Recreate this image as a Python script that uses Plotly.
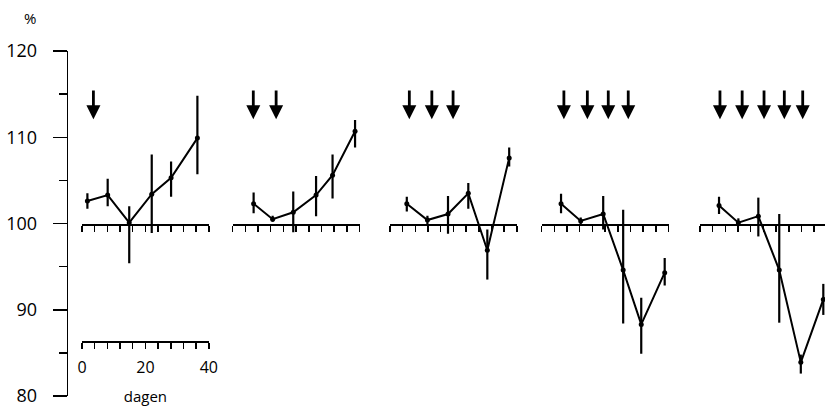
import plotly.graph_objects as go

W, H = 825, 406

# ---- data ----
days = [
    [1.7, 8.1, 14.9, 22.0, 28.1, 36.4],
    [6.6, 12.6, 19.1, 26.3, 31.5, 38.6],
    [5.3, 11.8, 18.3, 24.7, 30.7, 37.6],
    [6.1, 12.3, 19.4, 25.7, 31.4, 38.8],
    [6.0, 12.1, 18.4, 25.0, 31.8, 38.9],
]
values = [
    [102.6, 103.3, 100.1, 103.4, 105.3, 109.9],
    [102.3, 100.5, 101.3, 103.3, 105.6, 110.7],
    [102.3, 100.4, 101.1, 103.5, 96.9, 107.6],
    [102.3, 100.3, 101.1, 94.6, 88.3, 94.3],
    [102.1, 100.1, 100.85, 94.6, 83.9, 91.2],
]
upper = [
    [103.5, 105.2, 102.0, 108.0, 107.2, 114.8],
    [103.6, 100.9, 103.7, 105.5, 108.0, 112.0],
    [103.1, 100.9, 103.2, 104.7, 99.3, 108.8],
    [103.45, 100.7, 103.2, 101.6, 91.4, 96.0],
    [103.1, 100.6, 103.0, 101.1, 84.8, 93.0],
]
lower = [
    [101.7, 102.0, 95.4, 98.9, 103.1, 105.7],
    [101.2, 100.2, 99.0, 100.85, 102.9, 108.8],
    [101.4, 99.9, 98.8, 101.7, 93.5, 106.6],
    [101.2, 99.9, 99.3, 88.4, 84.9, 92.8],
    [101.1, 99.7, 98.5, 88.5, 82.6, 89.4],
]
arrow_days = [
    [3.6],
    [6.5, 13.7],
    [6.1, 13.2, 19.9],
    [7.0, 14.4, 21.0, 27.3],
    [6.3, 13.3, 20.2, 26.6, 32.4],
]
y_ticks = [80, 90, 100, 110, 120]
x_tick_vals = list(range(0, 41, 4))
x_tick_text = ["0" if v == 0 else "20" if v == 20 else "40" if v == 40 else "" for v in x_tick_vals]

# ---- layout geometry ----
panel_left_px = [82, 232.7, 390, 541.7, 700]
px_per_day = 3.17
y_axis_px = 66.7
base_y_frac = 1 - 224 / H
bottom_axis_frac = 1 - 341 / H

fig = go.Figure()
layout = dict(
    width=W, height=H, autosize=False,
    margin=dict(l=0, r=0, t=0, b=0, pad=0, autoexpand=False),
    paper_bgcolor="white", plot_bgcolor="rgba(0,0,0,0)",
    showlegend=False,
    font=dict(family="Open Sans", color="black"),
)

annotations = []
for i in range(5):
    n = "" if i == 0 else str(i + 1)
    xname = "x" + n
    left = panel_left_px[i]
    right = left + 40 * px_per_day
    rmax = 40 if right <= W else (W - left) / px_per_day
    dom = [left / W, min(right / W, 1.0)]
    layout["xaxis" + n] = dict(
        domain=dom, range=[0, rmax], anchor="free", position=base_y_frac,
        showline=True, linecolor="black", linewidth=1.5,
        ticks="outside", ticklen=6, tickwidth=1.5, tickcolor="black",
        tick0=0, dtick=4, showticklabels=False,
        showgrid=False, zeroline=False, automargin=False,
    )
    v = values[i]
    fig.add_trace(go.Scatter(
        x=days[i], y=v, mode="lines+markers",
        line=dict(color="black", width=2),
        marker=dict(color="black", size=5),
        error_y=dict(type="data", symmetric=False,
                     array=[u - a for u, a in zip(upper[i], v)],
                     arrayminus=[a - l for a, l in zip(v, lower[i])],
                     width=0, thickness=2.2, color="black"),
        xaxis=xname, yaxis="y", cliponaxis=False, hoverinfo="skip",
    ))
    for d in arrow_days[i]:
        annotations.append(dict(
            x=d, y=112.1, ax=d, ay=115.6,
            xref=xname, yref="y", axref=xname, ayref="y",
            text="", showarrow=True, arrowhead=2, arrowsize=1.0,
            arrowwidth=2.8, arrowcolor="black",
        ))

# bottom "dagen" axis for first panel
layout["xaxis6"] = dict(
    domain=layout["xaxis"]["domain"], range=[0, 40], anchor="free", position=bottom_axis_frac,
    overlaying="x",
    showline=True, linecolor="black", linewidth=1.5,
    ticks="outside", ticklen=6, tickwidth=1.5, tickcolor="black",
    tickvals=x_tick_vals, ticktext=x_tick_text,
    tickfont=dict(size=16), ticklabelstandoff=5,
    title=dict(text="dagen", font=dict(size=15), standoff=16),
    showgrid=False, zeroline=False, automargin=False,
)
fig.add_trace(go.Scatter(x=[], y=[], xaxis="x6", yaxis="y", showlegend=False))

layout["yaxis"] = dict(
    domain=[10 / H, 355 / H], range=[80, 120], anchor="free", position=y_axis_px / W,
    showline=True, linecolor="black", linewidth=1.5,
    ticks="outside", ticklen=14, tickwidth=1.5, tickcolor="black",
    tickvals=y_ticks, tickfont=dict(size=18), ticklabelstandoff=12,
    ticklabeloverflow="allow",
    minor=dict(dtick=5, tick0=80, ticks="outside", ticklen=8, tickwidth=1.5, tickcolor="black"),
    showgrid=False, zeroline=False, automargin=False,
)

annotations.append(dict(
    x=30 / W, y=1 - 18 / H, xref="paper", yref="paper",
    text="%", showarrow=False, font=dict(size=15), xanchor="center", yanchor="middle",
))
layout["annotations"] = annotations
fig.update_layout(**layout)
fig.write_html("out.html", config={"displayModeBar": False, "staticPlot": True},
               post_script="document.body.style.margin='0px';")
